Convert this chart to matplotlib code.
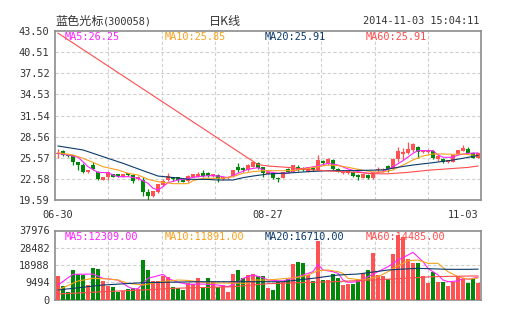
import numpy as np
import matplotlib
matplotlib.use('Agg')
import matplotlib.pyplot as plt

# ---- data ----
opens = [26.1, 26.5, 26.0, 25.9, 24.9, 24.6, 23.55, 24.6, 23.6, 22.45,
         22.85, 23.2, 23.2, 22.9, 23.35, 23.1, 22.5, 22.4, 20.7, 20.2,
         20.75, 21.7, 22.4, 22.8, 22.8, 22.4, 22.3, 22.9, 22.9, 23.4,
         23.4, 23.0, 23.1, 22.5, 22.8, 23.0, 24.3, 24.1, 23.85, 24.3,
         24.8, 24.2, 23.3, 23.4, 22.7, 22.75, 23.95, 23.6, 24.3, 24.1,
         23.6, 24.1, 23.8, 25.1, 24.7, 25.25, 24.0, 23.4, 23.4, 23.6,
         23.1, 22.75, 23.15, 22.7, 23.8, 23.8, 24.4, 24.1, 25.35, 26.1,
         26.2, 26.6, 27.1, 26.4, 26.4, 26.55, 25.4, 25.4, 25.0, 24.95,
         26.1, 26.55, 26.8, 26.3, 25.6]
highs = [26.8, 26.6, 26.1, 26.0, 25.0, 24.8, 23.9, 24.9, 23.7, 22.9,
         23.6, 23.3, 23.3, 23.3, 23.4, 23.2, 22.95, 22.9, 21.2, 20.9,
         21.9, 22.5, 23.45, 22.9, 22.9, 22.6, 23.1, 23.3, 23.6, 23.8,
         23.5, 23.3, 23.2, 22.95, 23.0, 23.9, 24.8, 24.3, 24.7, 25.0,
         24.9, 24.3, 23.7, 23.5, 22.9, 23.6, 24.1, 24.6, 24.6, 24.2,
         24.3, 24.2, 25.95, 25.2, 25.6, 25.35, 24.1, 23.8, 23.8, 23.7,
         23.2, 23.3, 23.25, 23.7, 24.2, 24.1, 24.5, 25.5, 27.1, 26.9,
         27.85, 27.7, 27.3, 26.7, 26.8, 26.7, 26.1, 25.6, 25.3, 26.0,
         26.7, 27.4, 27.1, 26.4, 26.3]
lows = [25.5, 25.8, 25.7, 24.5, 23.9, 23.4, 23.4, 23.9, 22.4, 22.4,
        22.4, 22.8, 22.9, 22.8, 23.0, 22.0, 22.4, 20.1, 19.5, 20.0,
        20.6, 21.6, 22.3, 22.3, 22.2, 22.1, 22.2, 22.8, 22.8, 22.9,
        22.9, 22.9, 22.2, 22.4, 22.6, 22.9, 23.6, 23.6, 23.7, 24.2,
        24.0, 22.9, 23.2, 22.5, 22.2, 22.7, 23.5, 23.5, 23.7, 23.7,
        23.5, 23.7, 23.7, 24.5, 24.6, 23.9, 23.5, 23.3, 23.2, 22.9,
        22.4, 22.7, 22.5, 22.6, 23.5, 23.6, 23.6, 24.0, 25.0, 25.3,
        26.1, 26.4, 25.5, 26.2, 26.2, 25.4, 25.1, 24.8, 24.8, 24.9,
        26.0, 26.5, 26.2, 25.5, 25.5]
closes = [26.3, 25.9, 25.8, 25.0, 24.6, 23.6, 23.8, 24.0, 22.6, 22.85,
          23.5, 22.9, 23.0, 23.2, 23.1, 22.3, 22.9, 20.7, 20.1, 20.85,
          21.8, 22.3, 23.0, 22.5, 22.4, 22.2, 23.0, 23.2, 23.3, 23.0,
          23.0, 23.2, 22.5, 22.9, 22.9, 23.85, 23.85, 23.8, 24.5, 24.9,
          24.1, 23.4, 23.6, 22.7, 22.6, 23.5, 23.6, 24.5, 23.8, 23.8,
          24.2, 23.9, 25.25, 24.8, 25.35, 24.0, 23.6, 23.6, 23.7, 23.0,
          22.9, 23.25, 22.7, 23.6, 24.0, 24.0, 24.0, 25.35, 26.5, 26.4,
          26.8, 27.5, 26.4, 26.6, 26.7, 25.5, 25.8, 24.9, 25.2, 25.95,
          26.65, 27.0, 26.3, 25.6, 26.2]
volumes = [12925, 7425, 4300, 16225, 14025, 13475, 7975, 17150, 16600, 10175,
           7425, 6700, 4300, 4850, 5600, 6150, 5600, 21725, 16225, 10175,
           10175, 12925, 12550, 6700, 6150, 5225, 8900, 8525, 11650, 6700,
           11650, 9800, 6700, 7975, 4300, 14025, 16225, 11650, 13475, 14025,
           12925, 12925, 6150, 5225, 9450, 9450, 11275, 19525, 20800, 20250,
           13475, 10175, 32350, 10725, 10725, 14025, 11650, 7975, 8525, 8525,
           11275, 14750, 16225, 25750, 13475, 12925, 11100, 24850, 35475, 34550,
           22100, 20250, 20250, 12925, 9250, 15300, 9800, 9800, 7425, 9800,
           12925, 11100, 8900, 11100, 8900]

ma5_idx = [0, 2, 4, 5, 6, 8, 10, 11, 12, 14, 16, 18, 19, 20, 21, 22, 24, 26, 28, 30,
           32, 34, 36, 38, 40, 42, 44, 46, 48, 50, 52, 54, 56, 58, 60, 62, 63, 65, 67, 69,
           71, 72, 75, 76, 77, 79, 80, 82, 84]
ma5_val = [26.2, 25.96, 25.63, 25.01, 24.3, 23.5, 23.45, 23.13, 22.89, 22.89,
           22.66, 21.95, 21.25, 21.0, 21.47, 22.04, 22.42, 22.66, 22.89, 23.03,
           23.0, 22.75, 23.37, 23.93, 24.16, 23.6, 23.37, 23.37, 23.93, 24.16,
           24.4, 24.78, 24.54, 23.98, 23.6, 23.37, 23.37, 23.6, 24.3, 25.15,
           26.2, 26.57, 26.57, 25.96, 25.63, 25.63, 25.96, 26.2, 26.25]
ma10_idx = [0, 3, 5, 7, 9, 12, 14, 16, 18, 20, 23, 26, 27, 29, 33, 35, 37, 39, 41, 44,
            47, 50, 52, 54, 56, 58, 60, 63, 65, 67, 69, 71, 73, 75, 77, 79, 81, 84]
ma10_val = [26.28, 25.96, 25.49, 24.92, 24.3, 23.84, 23.37, 23.13, 22.52, 22.18,
            21.9, 21.9, 22.32, 22.66, 22.66, 22.89, 23.37, 23.6, 23.74, 23.74,
            23.74, 24.08, 24.3, 24.54, 24.45, 24.22, 23.93, 23.55, 23.55, 23.84,
            24.54, 25.25, 25.82, 26.1, 26.1, 26.05, 26.1, 25.85]
ma20_idx = [0, 5, 9, 13, 17, 20, 24, 26, 30, 32, 35, 37, 39, 42, 47, 50, 54, 58, 62, 65,
            68, 71, 75, 79, 81, 84]
ma20_val = [27.23, 26.67, 25.72, 24.78, 23.74, 22.98, 22.7, 22.52, 22.5, 22.42,
            22.42, 22.75, 22.98, 23.27, 23.45, 23.6, 23.74, 23.74, 23.8, 23.84,
            24.22, 24.54, 24.87, 25.25, 25.49, 25.9]
ma60_idx = [0, 40, 42, 46, 50, 54, 60, 63, 66, 70, 74, 78, 82, 84]
ma60_val = [43.2, 24.6, 24.4, 24.2, 23.9, 23.7, 23.5, 23.3, 23.3, 23.5, 23.8, 24.0, 24.2, 24.4]

vma5_idx = [0, 3, 7, 9, 12, 14, 15, 16, 18, 20, 21, 22, 24, 26, 29, 32, 34, 36, 37, 39,
            41, 42, 45, 48, 51, 52, 53, 55, 56, 57, 58, 60, 62, 64, 66, 68, 70, 71, 73, 74,
            76, 77, 78, 80, 81, 82, 84]
vma5_val = [8000, 13860, 14000, 11650, 10700, 7040, 5800, 6000, 11650, 13100,
            13860, 11650, 9450, 8360, 8500, 7975, 7040, 9500, 11650, 13475,
            12000, 10725, 10175, 12550, 15300, 19350, 16225, 15300, 14400, 10725,
            9450, 9800, 12550, 15300, 18050, 21725, 24475, 25950, 20800, 17150,
            13475, 10725, 9800, 10200, 11650, 11100, 12309]
vma10_idx = [0, 4, 7, 10, 12, 14, 17, 20, 22, 24, 26, 30, 35, 38, 39, 42, 48, 50, 52, 54,
             56, 57, 58, 61, 64, 66, 68, 70, 72, 74, 76, 78, 80, 82, 84]
vma10_val = [5225, 10175, 11650, 11300, 10725, 8900, 7975, 9500, 10175, 10725,
             10500, 9100, 9000, 8900, 10725, 10725, 12200, 13475, 15850, 16225,
             15300, 14400, 11650, 10725, 12550, 15300, 18500, 21350, 21725, 19900,
             19900, 15300, 12550, 11100, 11891]
vma20_idx = [0, 9, 17, 28, 40, 45, 51, 56, 60, 66, 68, 72, 78, 82, 84]
vma20_val = [5225, 7975, 9250, 9800, 9800, 9800, 11650, 13475, 14025, 16225,
             16600, 17150, 16600, 16600, 16710]
vma60_idx = [0, 9, 17, 23, 35, 42, 55, 65, 75, 84]
vma60_val = [3025, 4300, 5225, 6150, 7040, 8700, 9800, 11000, 12550, 13000]

price_ticks = [19.59, 22.58, 25.57, 28.56, 31.54, 34.53, 37.52, 40.51, 43.50]
vol_ticks = [0, 9494, 18988, 28482, 37976]
date_pos = [0, 42, 84]
date_labels = ['06-30', '08-27', '11-03']
ma_labels = ['MA5:26.25', 'MA10:25.85', 'MA20:25.91', 'MA60:25.91']
vma_labels = ['MA5:12309.00', 'MA10:11891.00', 'MA20:16710.00', 'MA60:14485.00']

RED = '#ff5252'
GREEN = '#00880a'
MA_COLORS = ['#ff22ff', '#f7a21c', '#0b3a6a', '#ff4d4d']
GRID = '#d0d0d0'
EDGE = '#8c8c8c'
TXT = '#333333'
MONO = 'DejaVu Sans Mono'
CJK = ['Noto Sans CJK SC', 'DejaVu Sans']
FS = 7.4

fig = plt.figure(figsize=(5.05, 3.30), dpi=100)
ax = fig.add_axes([55 / 505, 1 - 200 / 330, 426 / 505, 169 / 330])
axv = fig.add_axes([55 / 505, 1 - 299.5 / 330, 426 / 505, 69 / 330])

x = np.arange(len(opens))
o = np.array(opens)
c = np.array(closes)
up = c >= o
cols = [RED if u else GREEN for u in up]
XMIN, XMAX = -0.6, 84.6

# candles
ax.vlines(x, lows, highs, colors=cols, lw=0.9, zorder=3)
body = np.maximum(np.abs(c - o), 0.04)
ax.bar(x, body, bottom=np.minimum(o, c), width=0.76, color=cols, lw=0, zorder=3)

for idx, val, col in zip([ma5_idx, ma10_idx, ma20_idx, ma60_idx],
                         [ma5_val, ma10_val, ma20_val, ma60_val], MA_COLORS):
    ax.plot(idx, val, color=col, lw=0.8, zorder=4)

# volume
axv.bar(x, volumes, width=0.76, color=cols, lw=0, zorder=3)
for idx, val, col in zip([vma5_idx, vma10_idx, vma20_idx, vma60_idx],
                         [vma5_val, vma10_val, vma20_val, vma60_val], MA_COLORS):
    axv.plot(idx, val, color=col, lw=0.8, zorder=4)

for a in (ax, axv):
    a.set_xlim(XMIN, XMAX)
    for k in range(1, 8):
        a.axvline(XMIN + k * (XMAX - XMIN) / 8, color=GRID, lw=0.8,
                  ls=(0, (3, 2)), zorder=1)
    for s in a.spines.values():
        s.set_color(EDGE)
        s.set_linewidth(1.2)
    a.tick_params(length=0, labelsize=FS, colors=TXT, pad=4)

ax.set_ylim(19.59, 43.50)
ax.set_yticks(price_ticks)
ax.set_yticklabels(['%.2f' % t for t in price_ticks], family=MONO)
for t in price_ticks[1:-1]:
    ax.axhline(t, color=GRID, lw=0.8, ls=(0, (3, 2)), zorder=1)
ax.set_xticks(date_pos)
ax.set_xticklabels(date_labels, family=MONO)
ax.tick_params(axis='x', pad=7)
ax.get_xticklabels()[-1].set_ha('right')

axv.set_ylim(0, 37976)
axv.set_yticks(vol_ticks)
axv.set_yticklabels([str(t) for t in vol_ticks], family=MONO)
for t in vol_ticks[1:-1]:
    axv.axhline(t, color=GRID, lw=0.8, ls=(0, (3, 2)), zorder=1)
axv.set_xticks([])

for k, (lab, col) in enumerate(zip(ma_labels, MA_COLORS)):
    ax.text(0.022 + k * 0.2355, 0.966, lab, transform=ax.transAxes, color=col,
            fontsize=FS, family=MONO, va='center', ha='left', zorder=2)
for k, (lab, col) in enumerate(zip(vma_labels, MA_COLORS)):
    axv.text(0.022 + k * 0.2355, 0.91, lab, transform=axv.transAxes, color=col,
             fontsize=FS, family=MONO, va='center', ha='left', zorder=2)

# header
ty = 1 - 21.5 / 330
fig.text(55 / 505, ty, '蓝色光标', fontsize=8.7, color=TXT, family=CJK,
         va='center', ha='left')
fig.text(103 / 505, ty, '(300058)', fontsize=FS, color=TXT, family=MONO,
         va='center', ha='left')
fig.text(225 / 505, ty, '日K线', fontsize=8.7, color=TXT, family=CJK,
         va='center', ha='center')
fig.text(479 / 505, ty, '2014-11-03 15:04:11', fontsize=FS, color=TXT,
         family=MONO, va='center', ha='right')

fig.savefig('out.png', dpi=100, facecolor='white')
